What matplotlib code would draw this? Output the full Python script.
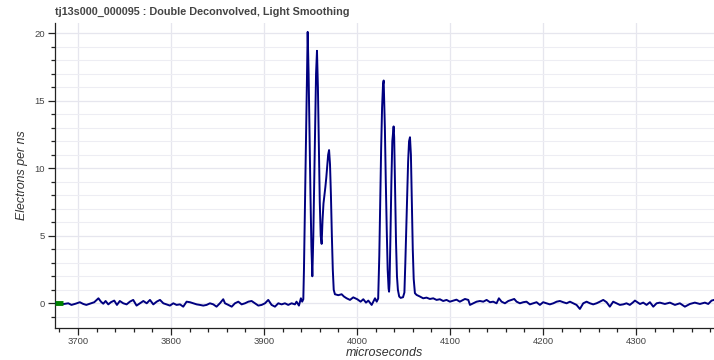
import matplotlib
matplotlib.use("Agg")
import matplotlib.pyplot as plt
from matplotlib.ticker import MultipleLocator

# ---------------- data ----------------
time_us = [
    3675.3, 3679, 3682, 3685, 3689.6, 3693, 3697.5, 3702, 3705.7, 3709, 3714, 3717.5,
    3722, 3724.7, 3727.2, 3729.7, 3732.6, 3735.4, 3739, 3741.9, 3745, 3748.7, 3752.3,
    3755.8, 3759.4, 3763, 3766.7, 3770.3, 3773.9, 3777.4, 3781, 3784.6, 3788.2, 3791.8,
    3795.3, 3798.9, 3802.5, 3806, 3809.7, 3813.2, 3816.8, 3820.4, 3824, 3827.6, 3831.1,
    3834.7, 3838.3, 3841.9, 3845.5, 3849, 3852.6, 3856.2, 3858.1, 3861.7, 3865.3, 3868.8,
    3872.4, 3876, 3879.6, 3883.2, 3886.7, 3890.3, 3893.9, 3897.5, 3901.1, 3904.6, 3908.2,
    3911.8, 3915.4, 3919, 3922.5, 3926.1, 3929.7, 3933.3, 3935, 3937.6, 3939.7, 3941.1,
    3942.3, 3943, 3944, 3945, 3946, 3947, 3948, 3949, 3950, 3951, 3952, 3953, 3954, 3955,
    3956, 3957, 3958, 3959, 3960, 3961, 3962, 3963, 3964, 3965, 3966, 3967, 3968, 3969,
    3970, 3971, 3972, 3973, 3974, 3975, 3976.3, 3979.9, 3983.5, 3986, 3988.9, 3992.5,
    3996, 4000.3, 4003.9, 4006.8, 4009.7, 4012.2, 4015.8, 4019.4, 4021.2, 4022.8,
    4024, 4025, 4026, 4027, 4028, 4028.7, 4030, 4031, 4032, 4033, 4034, 4034.5, 4035,
    4036, 4037, 4038, 4039.4, 4040, 4041, 4042, 4043, 4044, 4045.4, 4047, 4049.5, 4051,
    4052, 4053, 4054, 4055, 4056, 4057, 4058, 4059, 4060, 4061, 4062.3, 4064.1, 4067.7,
    4071.2, 4074.8, 4078.4, 4082, 4085.6, 4089.1, 4092.7, 4096.3, 4099.9, 4103.5, 4107,
    4110.6, 4114.2, 4116.1, 4119.7, 4121.5, 4125, 4128.6, 4132.2, 4135.8, 4139.4, 4143,
    4146.5, 4150.1, 4152.6, 4155.5, 4159.1, 4162.7, 4166.2, 4169.1, 4171.6, 4175.2,
    4178.8, 4182.3, 4185.9, 4189.5, 4193.1, 4196.7, 4200.2, 4203.8, 4207.4, 4211.1,
    4214.7, 4218.2, 4221.8, 4225.4, 4229, 4232.6, 4236.1, 4239.7, 4243.3, 4246.9, 4250.5,
    4254, 4257.6, 4261.2, 4264.8, 4268.4, 4271.9, 4275.5, 4279.1, 4282.7, 4286.3, 4289.8,
    4293.4, 4297, 4298.9, 4304.3, 4307.8, 4311.4, 4315, 4318.6, 4322.2, 4325.7, 4331.1,
    4336.5, 4341.9, 4347.2, 4352.6, 4358, 4363.3, 4368.7, 4374.1, 4377.7, 4381.3, 4384,
]
electrons_per_ns = [
    0.0, 0.05, -0.05, -0.05, 0.0, -0.12, -0.03, 0.08, -0.05, -0.12, 0.0, 0.08,
    0.37, 0.12, -0.03, 0.17, -0.08, 0.08, 0.2, -0.12, 0.17, 0.0, -0.08,
    0.12, 0.25, -0.17, 0.0, 0.17, 0.0, 0.25, -0.08, 0.12, 0.25, 0.0,
    -0.08, -0.17, 0.0, -0.12, -0.08, -0.25, 0.12, 0.08, 0.0, -0.08, -0.12,
    -0.17, -0.12, 0.0, -0.08, -0.25, 0.0, 0.3, 0.0, -0.12, -0.25, 0.0,
    0.12, -0.08, 0.0, 0.12, 0.17, 0.0, -0.17, -0.12, 0.0, 0.25, -0.12,
    -0.25, 0.0, -0.08, 0.0, -0.12, 0.0, -0.08, 0.12, -0.17, 0.37, 0.12,
    0.3, 2.5, 7.0, 11.5, 16.5, 20.1, 17.0, 12.5, 8.0, 4.2, 2.0, 4.8, 9.0, 13.5,
    17.0, 18.7, 16.0, 11.5, 7.5, 5.0, 4.4, 6.2, 7.4, 8.0, 8.6, 9.3, 10.2, 11.0,
    11.35, 10.3, 8.0, 5.0, 2.5, 1.0, 0.67, 0.6, 0.67, 0.5, 0.37, 0.25,
    0.44, 0.3, 0.12, 0.3, 0.05, 0.2, -0.12, 0.37, 0.12, 0.35,
    3.5, 7.5, 11.5, 14.5, 16.2, 16.5, 13.0, 9.0, 5.5, 2.5, 1.1, 0.86, 1.5,
    5.0, 9.0, 12.0, 13.1, 12.3, 8.5, 4.5, 2.0, 1.0, 0.5, 0.4, 0.45, 0.8,
    3.0, 5.5, 8.0, 10.5, 12.0, 12.3, 11.0, 7.5, 4.0, 1.8, 0.75, 0.62, 0.5,
    0.37, 0.42, 0.32, 0.37, 0.25, 0.3, 0.17, 0.25, 0.12, 0.2, 0.27,
    0.12, 0.25, 0.32, 0.25, -0.12, 0.0, 0.12, 0.17, 0.12, 0.25, 0.08,
    0.12, 0.0, 0.37, 0.12, 0.0, 0.17, 0.25, 0.32, 0.12, 0.0,
    0.08, 0.12, -0.08, 0.0, 0.08, -0.12, 0.08, 0.0, -0.08, 0.0,
    0.12, 0.17, 0.08, 0.0, 0.12, 0.0, -0.12, -0.42, 0.0, 0.12, 0.0,
    -0.08, 0.0, 0.12, 0.25, 0.08, -0.25, 0.12, 0.0, -0.12, -0.08, 0.0,
    -0.12, 0.08, 0.2, -0.05, 0.05, -0.12, 0.08, -0.25, 0.0, 0.05, -0.05,
    0.05, -0.12, 0.0, -0.25, -0.05, 0.05, -0.05, 0.05, -0.05, 0.2, 0.25,
]
marker_us = [3675.3, 3684.0]
marker_val = [0.0, 0.0]

title = "tj13s000_000095 : Double Deconvolved, Light Smoothing"
x_label = "microseconds"
y_label = "Electrons per ns"

# ---------------- figure ----------------
plt.rcParams['font.family'] = ['Liberation Sans', 'DejaVu Sans']
fig = plt.figure(figsize=(7.14, 3.6), dpi=100)
ax = fig.add_axes([55 / 714, 32 / 360, 1 - 55 / 714, (360 - 23 - 32) / 360])

ax.plot(time_us, electrons_per_ns, color="#000080", lw=1.4, solid_joinstyle="round", zorder=3)
ax.plot(marker_us, marker_val, color="#008000", lw=3.5, solid_capstyle="butt", zorder=4)

ax.set_xlim(3675.3, 4383.9)
ax.set_ylim(-1.83, 20.76)

ax.xaxis.set_major_locator(MultipleLocator(100))
ax.xaxis.set_minor_locator(MultipleLocator(20))
ax.yaxis.set_major_locator(MultipleLocator(5))
ax.yaxis.set_minor_locator(MultipleLocator(1))

ax.grid(which="major", color="#e6e6ee", lw=0.9, zorder=0)
ax.grid(which="minor", axis="y", color="#ededf3", lw=0.8, zorder=0)

for side in ("top", "right"):
    ax.spines[side].set_visible(False)
for side in ("left", "bottom"):
    ax.spines[side].set_color("#222222")
    ax.spines[side].set_linewidth(0.9)

ax.tick_params(which="major", length=5, width=0.9, color="#222222",
               labelsize=6.8, labelcolor="#444444", pad=2)
ax.tick_params(axis="x", which="major", pad=1.2)
ax.tick_params(which="minor", length=3, width=0.9, color="#222222")

fig.text((55 + 714) / 2 / 714, 1 - 353 / 360, x_label, fontsize=9, style="italic",
         color="#333333", ha="center", va="center")
ax.set_ylabel(y_label, fontsize=8.9, style="italic", color="#333333", labelpad=5)
fig.text(55 / 714, 1 - 12 / 360, title, fontsize=7.8, fontweight="bold",
         color="#444444", ha="left", va="center")

fig.savefig("out.png", dpi=100, facecolor="white")
